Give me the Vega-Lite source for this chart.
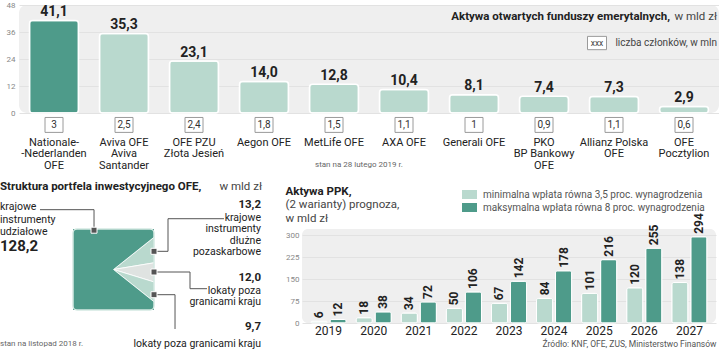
{
  "$schema": "https://vega.github.io/schema/vega-lite/v6.json",
  "padding": {"left": 0, "top": 1, "right": 0, "bottom": 0},
  "background": "#ffffff",
  "config": {
    "font": "Roboto",
    "view": {"stroke": null},
    "locale": {"number": {"decimal": ",", "thousands": " ", "grouping": [3], "currency": ["", " zł"]}},
    "axis": {"labelFont": "Roboto", "titleFont": "Roboto"},
    "legend": {"labelFont": "Roboto"},
    "title": {"font": "Roboto", "subtitleFont": "Roboto"}
  },
  "spacing": 11,
  "vconcat": [
    {
      "width": 700,
      "height": 108,
      "view": {"fill": "#efefef", "cornerRadius": 8, "stroke": null},
      "data": {"values": [
        {"fundusz": "Nationale-|-Nederlanden|OFE", "aktywa": 41.1, "czlonkowie": 3},
        {"fundusz": "Aviva OFE|Aviva|Santander", "aktywa": 35.3, "czlonkowie": 2.5},
        {"fundusz": "OFE PZU|Złota Jesień", "aktywa": 23.1, "czlonkowie": 2.4},
        {"fundusz": "Aegon OFE", "aktywa": 14.0, "czlonkowie": 1.8},
        {"fundusz": "MetLife OFE", "aktywa": 12.8, "czlonkowie": 1.5},
        {"fundusz": "AXA OFE", "aktywa": 10.4, "czlonkowie": 1.1},
        {"fundusz": "Generali OFE", "aktywa": 8.1, "czlonkowie": 1},
        {"fundusz": "PKO|BP Bankowy|OFE", "aktywa": 7.4, "czlonkowie": 0.9},
        {"fundusz": "Allianz Polska|OFE", "aktywa": 7.3, "czlonkowie": 1.1},
        {"fundusz": "OFE|Pocztylion", "aktywa": 2.9, "czlonkowie": 0.6}
      ]},
      "encoding": {
        "x": {"field": "fundusz", "type": "nominal", "sort": null,
          "scale": {"paddingInner": 0.3, "paddingOuter": 0.15},
          "axis": {"title": null, "labelExpr": "split(datum.label, '|')", "labelAngle": 0, "ticks": false, "domain": false,
            "labelPadding": 23, "labelFontSize": 11, "labelLineHeight": 11.5, "labelColor": "#222", "labelBaseline": "top", "labelOverlap": false}},
        "y": {"field": "aktywa", "type": "quantitative", "scale": {"domain": [0, 48], "nice": false, "zero": false},
          "axis": {"title": null, "values": [0, 12, 24, 36, 48], "labelOverlap": false, "labelFontSize": 8, "labelColor": "#888", "ticks": false, "domain": false, "gridColor": "#e2e2e2", "labelPadding": 4}}
      },
      "layer": [
        {
          "mark": {"type": "bar", "cornerRadius": 3, "stroke": "#ffffff", "strokeWidth": 1.5},
          "encoding": {
            "color": {"condition": {"test": "datum.aktywa > 40", "value": "#4e9b8a"}, "value": "#b9d9ce"}
          }
        },
        {
          "mark": {"type": "text", "fontSize": 14, "fontWeight": "bold", "baseline": "alphabetic", "dy": -4.5, "color": "#222"},
          "encoding": {
            "text": {"field": "aktywa", "type": "quantitative", "format": ".1f"}
          }
        },
        {
          "mark": {"type": "point", "shape": "M-1,-0.83H1V0.83H-1Z", "size": 324, "filled": true, "fill": "#ffffff", "stroke": "#9a9a9a", "strokeWidth": 1, "opacity": 1},
          "encoding": {"y": {"datum": -5.3, "type": "quantitative", "scale": {"domain": [0, 48], "nice": false, "zero": false}}}
        },
        {
          "mark": {"type": "text", "fontSize": 10, "baseline": "middle", "color": "#333"},
          "encoding": {
            "y": {"datum": -5.3, "type": "quantitative", "scale": {"domain": [0, 48], "nice": false, "zero": false}},
            "text": {"field": "czlonkowie", "type": "quantitative", "format": ".1~f"}
          }
        },
        {
          "transform": [{"filter": "datum.fundusz == 'OFE|Pocztylion'"}],
          "mark": {"type": "text", "align": "right", "baseline": "middle", "fontSize": 11.5, "fontWeight": "bold", "dx": -14, "color": "#222"},
          "encoding": {
            "y": {"datum": 42.7, "type": "quantitative", "scale": {"domain": [0, 48], "nice": false, "zero": false}},
            "text": {"value": "Aktywa otwartych funduszy emerytalnych,"}
          }
        },
        {
          "transform": [{"filter": "datum.fundusz == 'OFE|Pocztylion'"}],
          "mark": {"type": "text", "align": "right", "baseline": "middle", "fontSize": 11.5, "dx": 33, "color": "#444"},
          "encoding": {
            "y": {"datum": 42.7, "type": "quantitative", "scale": {"domain": [0, 48], "nice": false, "zero": false}},
            "text": {"value": "w mld zł"}
          }
        },
        {
          "transform": [{"filter": "datum.fundusz == 'OFE|Pocztylion'"}],
          "mark": {"type": "text", "align": "right", "baseline": "middle", "fontSize": 10, "dx": 33, "color": "#444"},
          "encoding": {
            "y": {"datum": 31.1, "type": "quantitative", "scale": {"domain": [0, 48], "nice": false, "zero": false}},
            "text": {"value": "liczba członków, w mln"}
          }
        },
        {
          "transform": [{"filter": "datum.fundusz == 'OFE|Pocztylion'"}],
          "mark": {"type": "point", "shape": "M-1,-0.7H1V0.7H-1Z", "size": 361, "filled": true, "fill": "#ffffff", "stroke": "#9a9a9a", "strokeWidth": 1, "opacity": 1},
          "encoding": {
            "xOffset": {"value": -62.5},
            "y": {"datum": 31.1, "type": "quantitative", "scale": {"domain": [0, 48], "nice": false, "zero": false}}
          }
        },
        {
          "transform": [{"filter": "datum.fundusz == 'OFE|Pocztylion'"}],
          "mark": {"type": "text", "align": "center", "baseline": "middle", "fontSize": 8.5, "dx": -87, "color": "#444"},
          "encoding": {
            "y": {"datum": 31.1, "type": "quantitative", "scale": {"domain": [0, 48], "nice": false, "zero": false}},
            "text": {"value": "xxx"}
          }
        },
        {
          "transform": [{"filter": "datum.fundusz == 'MetLife OFE'"}],
          "mark": {"type": "text", "align": "left", "baseline": "middle", "fontSize": 8, "dx": -19, "color": "#666"},
          "encoding": {
            "y": {"datum": -23.1, "type": "quantitative", "scale": {"domain": [0, 48], "nice": false, "zero": false}},
            "text": {"value": "stan na 28 lutego 2019 r."}
          }
        }
      ]
    },
    {
      "spacing": 10,
      "bounds": "flush",
      "resolve": {"scale": {"color": "independent"}, "legend": {"color": "independent"}},
      "hconcat": [
        {
          "width": 44,
          "height": 81,
          "data": {"values": [{}]},
          "mark": {"type": "text"},
          "encoding": {"text": {"value": ""}}
        },
        {
          "width": 81,
          "height": 81,
          "data": {"values": [
            {"kategoria": "krajowe instrumenty dłużne pozaskarbowe", "wartosc": 13.2, "nr": 1},
            {"kategoria": "lokaty poza granicami kraju", "wartosc": 12.0, "nr": 2},
            {"kategoria": "lokaty poza granicami kraju (2)", "wartosc": 9.7, "nr": 3},
            {"kategoria": "krajowe instrumenty udziałowe", "wartosc": 128.2, "nr": 4}
          ]},
          "layer": [
            {
              "mark": {"type": "arc", "outerRadius": 60, "clip": true, "stroke": "#ffffff", "strokeWidth": 0.8},
              "encoding": {
                "x": {"datum": 0, "type": "quantitative", "scale": {"domain": [-1, 1], "nice": false, "zero": false}, "axis": null},
                "y": {"datum": 0, "type": "quantitative", "scale": {"domain": [-1, 1], "nice": false, "zero": false}, "axis": null},
                "theta": {"field": "wartosc", "type": "quantitative", "stack": true, "scale": {"range": [0.8987, 7.1819]}},
                "color": {"field": "nr", "type": "nominal", "scale": {"domain": [1, 2, 3, 4], "range": ["#b9d9ce", "#dfe3e1", "#b9d9ce", "#4e9b8a"]}, "legend": null},
                "order": {"field": "nr", "type": "quantitative"}
              }
            },
            {"data": {"values": [{}]}, "mark": {"type": "rect", "fill": null, "filled": false, "stroke": "#d4e9e2", "strokeWidth": 1.5, "cornerRadius": 4, "opacity": 1},
             "encoding": {"x": {"datum": -1, "type": "quantitative", "scale": {"domain": [-1, 1], "nice": false, "zero": false}, "axis": null}, "y": {"datum": -1, "type": "quantitative", "scale": {"domain": [-1, 1], "nice": false, "zero": false}, "axis": null}, "x2": {"datum": 1}, "y2": {"datum": 1}}},
            {"data": {"values": [{}]}, "mark": {"type": "rule", "color": "#555", "strokeWidth": 1},
             "encoding": {"x": {"datum": -1.815, "type": "quantitative", "scale": {"domain": [-1, 1], "nice": false, "zero": false}, "axis": null}, "y": {"datum": 1.477, "type": "quantitative", "scale": {"domain": [-1, 1], "nice": false, "zero": false}, "axis": null}, "x2": {"datum": -0.481}, "y2": {"datum": 1.477}}},
            {"data": {"values": [{}]}, "mark": {"type": "rule", "color": "#555", "strokeWidth": 1},
             "encoding": {"x": {"datum": -0.481, "type": "quantitative", "scale": {"domain": [-1, 1], "nice": false, "zero": false}, "axis": null}, "y": {"datum": 1.477, "type": "quantitative", "scale": {"domain": [-1, 1], "nice": false, "zero": false}, "axis": null}, "x2": {"datum": -0.481}, "y2": {"datum": 0.97}}},
            {"data": {"values": [{}]}, "mark": {"type": "rule", "color": "#555", "strokeWidth": 1},
             "encoding": {"x": {"datum": 1.0, "type": "quantitative", "scale": {"domain": [-1, 1], "nice": false, "zero": false}, "axis": null}, "y": {"datum": 0.449, "type": "quantitative", "scale": {"domain": [-1, 1], "nice": false, "zero": false}, "axis": null}, "x2": {"datum": 1.346}, "y2": {"datum": 0.449}}},
            {"data": {"values": [{}]}, "mark": {"type": "rule", "color": "#555", "strokeWidth": 1},
             "encoding": {"x": {"datum": 1.346, "type": "quantitative", "scale": {"domain": [-1, 1], "nice": false, "zero": false}, "axis": null}, "y": {"datum": 0.449, "type": "quantitative", "scale": {"domain": [-1, 1], "nice": false, "zero": false}, "axis": null}, "x2": {"datum": 1.346}, "y2": {"datum": 1.254}}},
            {"data": {"values": [{}]}, "mark": {"type": "rule", "color": "#555", "strokeWidth": 1},
             "encoding": {"x": {"datum": 1.346, "type": "quantitative", "scale": {"domain": [-1, 1], "nice": false, "zero": false}, "axis": null}, "y": {"datum": 1.254, "type": "quantitative", "scale": {"domain": [-1, 1], "nice": false, "zero": false}, "axis": null}, "x2": {"datum": 2.728}, "y2": {"datum": 1.254}}},
            {"data": {"values": [{}]}, "mark": {"type": "rule", "color": "#555", "strokeWidth": 1},
             "encoding": {"x": {"datum": 1.0, "type": "quantitative", "scale": {"domain": [-1, 1], "nice": false, "zero": false}, "axis": null}, "y": {"datum": -0.062, "type": "quantitative", "scale": {"domain": [-1, 1], "nice": false, "zero": false}, "axis": null}, "x2": {"datum": 1.889}, "y2": {"datum": -0.062}}},
            {"data": {"values": [{}]}, "mark": {"type": "rule", "color": "#555", "strokeWidth": 1},
             "encoding": {"x": {"datum": 1.889, "type": "quantitative", "scale": {"domain": [-1, 1], "nice": false, "zero": false}, "axis": null}, "y": {"datum": -0.062, "type": "quantitative", "scale": {"domain": [-1, 1], "nice": false, "zero": false}, "axis": null}, "x2": {"datum": 1.889}, "y2": {"datum": -0.474}}},
            {"data": {"values": [{}]}, "mark": {"type": "rule", "color": "#555", "strokeWidth": 1},
             "encoding": {"x": {"datum": 1.889, "type": "quantitative", "scale": {"domain": [-1, 1], "nice": false, "zero": false}, "axis": null}, "y": {"datum": -0.474, "type": "quantitative", "scale": {"domain": [-1, 1], "nice": false, "zero": false}, "axis": null}, "x2": {"datum": 2.309}, "y2": {"datum": -0.474}}},
            {"data": {"values": [{}]}, "mark": {"type": "rule", "color": "#555", "strokeWidth": 1},
             "encoding": {"x": {"datum": 1.0, "type": "quantitative", "scale": {"domain": [-1, 1], "nice": false, "zero": false}, "axis": null}, "y": {"datum": -0.622, "type": "quantitative", "scale": {"domain": [-1, 1], "nice": false, "zero": false}, "axis": null}, "x2": {"datum": 1.519}, "y2": {"datum": -0.622}}},
            {"data": {"values": [{}]}, "mark": {"type": "rule", "color": "#555", "strokeWidth": 1},
             "encoding": {"x": {"datum": 1.519, "type": "quantitative", "scale": {"domain": [-1, 1], "nice": false, "zero": false}, "axis": null}, "y": {"datum": -0.622, "type": "quantitative", "scale": {"domain": [-1, 1], "nice": false, "zero": false}, "axis": null}, "x2": {"datum": 1.519}, "y2": {"datum": -1.469}}},
            {"data": {"values": [{}]}, "mark": {"type": "point", "shape": "square", "size": 36, "filled": true, "color": "#555", "stroke": "#ffffff", "strokeWidth": 1, "opacity": 1},
             "encoding": {"x": {"datum": -0.481, "type": "quantitative", "scale": {"domain": [-1, 1], "nice": false, "zero": false}, "axis": null}, "y": {"datum": 0.97, "type": "quantitative", "scale": {"domain": [-1, 1], "nice": false, "zero": false}, "axis": null}}},
            {"data": {"values": [{}]}, "mark": {"type": "point", "shape": "square", "size": 36, "filled": true, "color": "#555", "stroke": "#ffffff", "strokeWidth": 1, "opacity": 1},
             "encoding": {"x": {"datum": 1.0, "type": "quantitative", "scale": {"domain": [-1, 1], "nice": false, "zero": false}, "axis": null}, "y": {"datum": 0.449, "type": "quantitative", "scale": {"domain": [-1, 1], "nice": false, "zero": false}, "axis": null}}},
            {"data": {"values": [{}]}, "mark": {"type": "point", "shape": "square", "size": 36, "filled": true, "color": "#555", "stroke": "#ffffff", "strokeWidth": 1, "opacity": 1},
             "encoding": {"x": {"datum": 1.0, "type": "quantitative", "scale": {"domain": [-1, 1], "nice": false, "zero": false}, "axis": null}, "y": {"datum": -0.062, "type": "quantitative", "scale": {"domain": [-1, 1], "nice": false, "zero": false}, "axis": null}}},
            {"data": {"values": [{}]}, "mark": {"type": "point", "shape": "square", "size": 36, "filled": true, "color": "#555", "stroke": "#ffffff", "strokeWidth": 1, "opacity": 1},
             "encoding": {"x": {"datum": 1.0, "type": "quantitative", "scale": {"domain": [-1, 1], "nice": false, "zero": false}, "axis": null}, "y": {"datum": -0.622, "type": "quantitative", "scale": {"domain": [-1, 1], "nice": false, "zero": false}, "axis": null}}},
            {"data": {"values": [{}]}, "mark": {"type": "text", "align": "left", "baseline": "middle", "fontSize": 11.5, "fontWeight": "bold", "color": "#222"},
             "encoding": {"x": {"datum": -2.802, "type": "quantitative", "scale": {"domain": [-1, 1], "nice": false, "zero": false}, "axis": null}, "y": {"datum": 2.037, "type": "quantitative", "scale": {"domain": [-1, 1], "nice": false, "zero": false}, "axis": null}, "text": {"value": "Struktura portfela inwestycyjnego OFE,"}}},
            {"data": {"values": [{}]}, "mark": {"type": "text", "align": "right", "baseline": "middle", "fontSize": 11.5, "color": "#444"},
             "encoding": {"x": {"datum": 3.667, "type": "quantitative", "scale": {"domain": [-1, 1], "nice": false, "zero": false}, "axis": null}, "y": {"datum": 2.037, "type": "quantitative", "scale": {"domain": [-1, 1], "nice": false, "zero": false}, "axis": null}, "text": {"value": "w mld zł"}}},
            {"data": {"values": [{}]}, "mark": {"type": "text", "align": "left", "baseline": "middle", "fontSize": 10.5, "lineHeight": 12.5, "color": "#222"},
             "encoding": {"x": {"datum": -2.802, "type": "quantitative", "scale": {"domain": [-1, 1], "nice": false, "zero": false}, "axis": null}, "y": {"datum": 1.543, "type": "quantitative", "scale": {"domain": [-1, 1], "nice": false, "zero": false}, "axis": null}, "text": {"value": ["krajowe", "instrumenty", "udziałowe"]}}},
            {"transform": [{"filter": "datum.nr == 4"}], "mark": {"type": "text", "align": "left", "baseline": "middle", "fontSize": 15, "fontWeight": "bold", "color": "#222"},
             "encoding": {"x": {"datum": -2.802, "type": "quantitative", "scale": {"domain": [-1, 1], "nice": false, "zero": false}, "axis": null}, "y": {"datum": 0.58, "type": "quantitative", "scale": {"domain": [-1, 1], "nice": false, "zero": false}, "axis": null}, "text": {"field": "wartosc", "type": "quantitative", "format": ".1f"}}},
            {"transform": [{"filter": "datum.nr == 1"}], "mark": {"type": "text", "align": "right", "baseline": "middle", "fontSize": 11.5, "fontWeight": "bold", "color": "#222"},
             "encoding": {"x": {"datum": 3.642, "type": "quantitative", "scale": {"domain": [-1, 1], "nice": false, "zero": false}, "axis": null}, "y": {"datum": 1.593, "type": "quantitative", "scale": {"domain": [-1, 1], "nice": false, "zero": false}, "axis": null}, "text": {"field": "wartosc", "type": "quantitative", "format": ".1f"}}},
            {"data": {"values": [{}]}, "mark": {"type": "text", "align": "right", "baseline": "middle", "fontSize": 10.5, "lineHeight": 11.5, "color": "#222"},
             "encoding": {"x": {"datum": 3.642, "type": "quantitative", "scale": {"domain": [-1, 1], "nice": false, "zero": false}, "axis": null}, "y": {"datum": 1.272, "type": "quantitative", "scale": {"domain": [-1, 1], "nice": false, "zero": false}, "axis": null}, "text": {"value": ["krajowe", "instrumenty", "dłużne", "pozaskarbowe"]}}},
            {"transform": [{"filter": "datum.nr == 2"}], "mark": {"type": "text", "align": "right", "baseline": "middle", "fontSize": 11.5, "fontWeight": "bold", "color": "#222"},
             "encoding": {"x": {"datum": 3.642, "type": "quantitative", "scale": {"domain": [-1, 1], "nice": false, "zero": false}, "axis": null}, "y": {"datum": -0.2, "type": "quantitative", "scale": {"domain": [-1, 1], "nice": false, "zero": false}, "axis": null}, "text": {"field": "wartosc", "type": "quantitative", "format": ".1f"}}},
            {"data": {"values": [{}]}, "mark": {"type": "text", "align": "right", "baseline": "middle", "fontSize": 10.5, "lineHeight": 11.5, "color": "#222"},
             "encoding": {"x": {"datum": 3.642, "type": "quantitative", "scale": {"domain": [-1, 1], "nice": false, "zero": false}, "axis": null}, "y": {"datum": -0.52, "type": "quantitative", "scale": {"domain": [-1, 1], "nice": false, "zero": false}, "axis": null}, "text": {"value": ["lokaty poza", "granicami kraju"]}}},
            {"transform": [{"filter": "datum.nr == 3"}], "mark": {"type": "text", "align": "right", "baseline": "middle", "fontSize": 11.5, "fontWeight": "bold", "color": "#222"},
             "encoding": {"x": {"datum": 3.642, "type": "quantitative", "scale": {"domain": [-1, 1], "nice": false, "zero": false}, "axis": null}, "y": {"datum": -1.42, "type": "quantitative", "scale": {"domain": [-1, 1], "nice": false, "zero": false}, "axis": null}, "text": {"field": "wartosc", "type": "quantitative", "format": ".1f"}}},
            {"data": {"values": [{}]}, "mark": {"type": "text", "align": "right", "baseline": "middle", "fontSize": 10.5, "color": "#222"},
             "encoding": {"x": {"datum": 3.642, "type": "quantitative", "scale": {"domain": [-1, 1], "nice": false, "zero": false}, "axis": null}, "y": {"datum": -1.832, "type": "quantitative", "scale": {"domain": [-1, 1], "nice": false, "zero": false}, "axis": null}, "text": {"value": "lokaty poza granicami kraju"}}},
            {"data": {"values": [{}]}, "mark": {"type": "text", "align": "left", "baseline": "middle", "fontSize": 8, "color": "#666"},
             "encoding": {"x": {"datum": -2.802, "type": "quantitative", "scale": {"domain": [-1, 1], "nice": false, "zero": false}, "axis": null}, "y": {"datum": -1.832, "type": "quantitative", "scale": {"domain": [-1, 1], "nice": false, "zero": false}, "axis": null}, "text": {"value": "stan na listopad 2018 r."}}}
          ]
        },
        {
          "width": 128,
          "height": 81,
          "data": {"values": [{}]},
          "mark": {"type": "text"},
          "encoding": {"text": {"value": ""}}
        },
        {
          "width": 414,
          "height": 94,
          "view": {"fill": "#efefef", "cornerRadius": 6, "stroke": null},
          "title": {"text": "Aktywa PPK,", "subtitle": ["(2 warianty) prognoza,", "w mld zł"], "anchor": "start", "frame": "bounds", "offset": -37,
            "fontSize": 11.5, "fontWeight": "bold", "color": "#222", "subtitleFontSize": 11.5, "subtitleColor": "#444", "subtitlePadding": 2, "subtitleLineHeight": 13.5},
          "data": {"values": [
            {"rok": "2019", "wariant": "minimalna wpłata równa 3,5 proc. wynagrodzenia", "wartosc": 6},
            {"rok": "2019", "wariant": "maksymalna wpłata równa 8 proc. wynagrodzenia", "wartosc": 12},
            {"rok": "2020", "wariant": "minimalna wpłata równa 3,5 proc. wynagrodzenia", "wartosc": 18},
            {"rok": "2020", "wariant": "maksymalna wpłata równa 8 proc. wynagrodzenia", "wartosc": 38},
            {"rok": "2021", "wariant": "minimalna wpłata równa 3,5 proc. wynagrodzenia", "wartosc": 34},
            {"rok": "2021", "wariant": "maksymalna wpłata równa 8 proc. wynagrodzenia", "wartosc": 72},
            {"rok": "2022", "wariant": "minimalna wpłata równa 3,5 proc. wynagrodzenia", "wartosc": 50},
            {"rok": "2022", "wariant": "maksymalna wpłata równa 8 proc. wynagrodzenia", "wartosc": 106},
            {"rok": "2023", "wariant": "minimalna wpłata równa 3,5 proc. wynagrodzenia", "wartosc": 67},
            {"rok": "2023", "wariant": "maksymalna wpłata równa 8 proc. wynagrodzenia", "wartosc": 142},
            {"rok": "2024", "wariant": "minimalna wpłata równa 3,5 proc. wynagrodzenia", "wartosc": 84},
            {"rok": "2024", "wariant": "maksymalna wpłata równa 8 proc. wynagrodzenia", "wartosc": 178},
            {"rok": "2025", "wariant": "minimalna wpłata równa 3,5 proc. wynagrodzenia", "wartosc": 101},
            {"rok": "2025", "wariant": "maksymalna wpłata równa 8 proc. wynagrodzenia", "wartosc": 216},
            {"rok": "2026", "wariant": "minimalna wpłata równa 3,5 proc. wynagrodzenia", "wartosc": 120},
            {"rok": "2026", "wariant": "maksymalna wpłata równa 8 proc. wynagrodzenia", "wartosc": 255},
            {"rok": "2027", "wariant": "minimalna wpłata równa 3,5 proc. wynagrodzenia", "wartosc": 138},
            {"rok": "2027", "wariant": "maksymalna wpłata równa 8 proc. wynagrodzenia", "wartosc": 294}
          ]},
          "encoding": {
            "x": {"field": "rok", "type": "nominal", "scale": {"paddingInner": 0.22, "paddingOuter": 0.2},
              "axis": {"labelAngle": 0, "ticks": false, "domain": false, "labelFontSize": 12, "labelColor": "#222", "labelPadding": 2,
                "title": "Źródło: KNF, OFE, ZUS, Ministerstwo Finansów", "titleAnchor": "end", "titleFontSize": 8.5, "titleFontWeight": "normal", "titleColor": "#555", "titlePadding": 3}},
            "xOffset": {"field": "wariant", "type": "nominal", "scale": {"domain": ["minimalna wpłata równa 3,5 proc. wynagrodzenia", "maksymalna wpłata równa 8 proc. wynagrodzenia"], "paddingInner": 0.15}},
            "y": {"field": "wartosc", "type": "quantitative", "scale": {"domain": [0, 320.5], "nice": false},
              "axis": {"title": null, "values": [0, 75, 150, 225, 300], "labelOverlap": false, "labelFontSize": 8, "labelColor": "#888", "ticks": false, "domain": false, "gridColor": "#e2e2e2", "labelPadding": 3}}
          },
          "layer": [
            {
              "mark": {"type": "bar", "cornerRadius": 2, "stroke": "#ffffff", "strokeWidth": 1},
              "encoding": {
                "color": {"field": "wariant", "type": "nominal",
                  "scale": {"domain": ["minimalna wpłata równa 3,5 proc. wynagrodzenia", "maksymalna wpłata równa 8 proc. wynagrodzenia"], "range": ["#b9d9ce", "#4e9b8a"]},
                  "legend": {"orient": "none", "legendX": 160, "legendY": -42, "title": null, "padding": 0,
                    "symbolType": "M-1,-0.6H1V0.6H-1Z", "symbolSize": 225, "symbolStrokeWidth": 0,
                    "labelFontSize": 10, "labelColor": "#555", "labelOffset": 6, "rowPadding": 0, "labelLimit": 300}}
              }
            },
            {
              "mark": {"type": "text", "angle": 270, "align": "left", "baseline": "middle", "dx": 3, "fontSize": 12, "fontWeight": "bold", "color": "#222"},
              "encoding": {"text": {"field": "wartosc", "type": "quantitative"}}
            }
          ]
        }
      ]
    }
  ]
}
